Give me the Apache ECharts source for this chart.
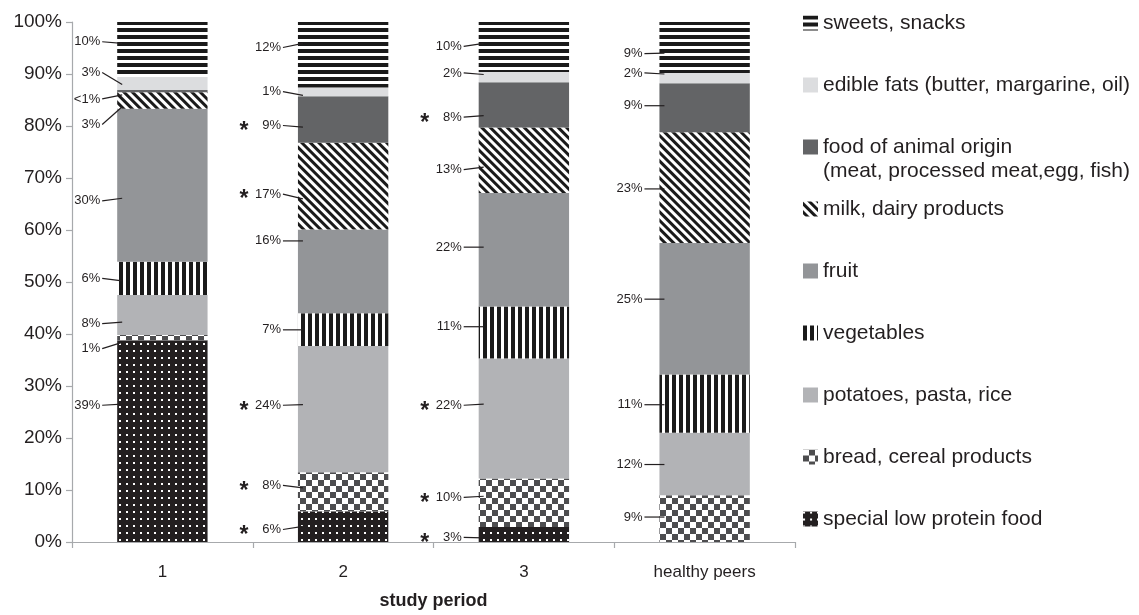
<!DOCTYPE html>
<html><head><meta charset="utf-8">
<script src="https://cdn.jsdelivr.net/npm/echarts@6/dist/echarts.min.js"></script>
<style>html,body{margin:0;padding:0;background:#fff}#c{width:1139px;height:615px}</style>
</head><body><div id="c"></div>
<script>
// ---------- data ----------
const categories = ['1', '2', '3', 'healthy peers'];
const seriesNames = ['special low protein food', 'bread, cereal products', 'potatoes, pasta, rice',
  'vegetables', 'fruit', 'milk, dairy products', 'food of animal origin',
  'edible fats (butter, margarine, oil)', 'sweets, snacks'];
const special    = [38.8, 5.9, 2.9, 0];
const bread      = [1.0, 7.5, 9.3, 9.0];
const potatoes   = [7.7, 24.3, 23.1, 12.0];
const vegetables = [6.4, 6.3, 10.0, 11.2];
const fruit      = [29.4, 16.1, 21.8, 25.3];
const milk       = [3.2, 16.7, 12.6, 21.3];
const animal     = [0.4, 8.9, 8.7, 9.4];
const fats       = [2.5, 1.7, 2.0, 2.0];
const sweets     = [10.6, 12.6, 9.6, 9.8];
const yTicks = [0, 10, 20, 30, 40, 50, 60, 70, 80, 90, 100];

// value labels (bottom -> top) and significance stars
const labels1 = ['39%', '1%', '8%', '6%', '30%', '3%', '<1%', '3%', '10%'];
const labels2 = ['6%', '8%', '24%', '7%', '16%', '17%', '9%', '1%', '12%'];
const labels3 = ['3%', '10%', '22%', '11%', '22%', '13%', '8%', '2%', '10%'];
const labels4 = ['', '9%', '12%', '11%', '25%', '23%', '9%', '2%', '9%'];
const stars1 = [0, 0, 0, 0, 0, 0, 0, 0, 0];
const stars2 = [1, 1, 1, 0, 0, 1, 1, 0, 0];
const stars3 = [1, 1, 1, 0, 0, 0, 1, 0, 0];
const stars4 = [0, 0, 0, 0, 0, 0, 0, 0, 0];

// ---------- label placement (layout, in axis units) ----------
const labelAt = [
  [26.3, 37.2, 42.0, 50.7, 65.6, 80.3, 85.2, 90.3, 96.2],
  [2.4, 10.9, 26.3, 40.8, 57.9, 66.9, 80.1, 86.6, 95.1],
  [0.9, 8.6, 26.3, 41.4, 56.7, 71.6, 81.7, 90.2, 95.3],
  [0, 4.8, 14.9, 26.4, 46.7, 67.9, 83.9, 90.2, 93.9]
];
const labelTo = [
  [26.5, 38.4, 42.3, 50.2, 66.1, 83.7, 86.0, 88.0, 95.9],
  [3.0, 10.4, 26.4, 40.8, 57.9, 66.0, 79.8, 85.9, 95.9],
  [0.8, 8.8, 26.5, 41.4, 56.7, 72.1, 82.0, 89.9, 95.9],
  [0, 4.8, 14.9, 26.4, 46.7, 67.9, 83.9, 90.0, 94.0]
];

const FONT = "'Liberation Sans', Arial, Helvetica, sans-serif";
const TXT = '#231f20';
const AX = '#a7a9ac';

const allLabels = [labels1, labels2, labels3, labels4];
const allStars = [stars1, stars2, stars3, stars4];
const annots = [];
allLabels.forEach((labs, c) => {
  labs.forEach((t, i) => {
    if (!t) return;
    annots.push({ value: [c, labelAt[c][i], labelTo[c][i]], text: t, star: allStars[c][i] });
  });
});

const seriesValues = [special, bread, potatoes, vegetables, fruit, milk, animal, fats, sweets];
const styles = [
  { color: '#231f20', decal: { symbol: 'rect', symbolSize: 1, color: '#ffffff', dashArrayX: [2, 5], dashArrayY: [2, 5] } },
  { color: '#ffffff', decal: { symbol: 'rect', symbolSize: 1, color: '#4d4d4f', dashArrayX: [[6, 6], [0, 6, 6, 0]], dashArrayY: [6, 0] } },
  { color: '#b2b3b6' },
  { color: '#ffffff', decal: { symbol: 'rect', symbolSize: 1, color: '#1a1a1a', dashArrayX: [4, 3], dashArrayY: [1, 0] } },
  { color: '#939598' },
  { color: '#ffffff', decal: { symbol: 'rect', symbolSize: 1, color: '#1a1a1a', dashArrayX: [1, 0], dashArrayY: [3, 3], rotation: Math.PI / 4 } },
  { color: '#636466' },
  { color: '#dcdddf' },
  { color: '#ffffff', decal: { symbol: 'rect', symbolSize: 1, color: '#1a1a1a', dashArrayX: [1, 0], dashArrayY: [4, 3] } }
];

const barSeries = seriesNames.map((n, i) => ({
  name: n, type: 'bar', stack: 'total', barWidth: '50%',
  data: seriesValues[i], itemStyle: styles[i], silent: true,
  emphasis: { disabled: true }
}));

const annotSeries = {
  type: 'custom', name: 'labels', silent: true, z: 10,
  data: annots.map(a => a.value),
  renderItem: function (params, api) {
    const a = annots[params.dataIndex];
    const p = api.coord([api.value(0), api.value(1)]);
    const q = api.coord([api.value(0), api.value(2)]);
    const band = api.size([1, 0])[0];
    const barLeft = p[0] - band * 0.25;
    const ch = [
      { type: 'text', style: { text: a.text, x: barLeft - 17, y: p[1], align: 'right', verticalAlign: 'middle', fontSize: 13, fontFamily: FONT, fill: TXT } },
      { type: 'line', shape: { x1: barLeft - 15, y1: p[1], x2: barLeft + 5, y2: q[1] }, style: { stroke: TXT, lineWidth: 1.2 } }
    ];
    if (a.star) {
      ch.push({ type: 'text', style: { text: '*', x: barLeft - 54, y: p[1] + 6, align: 'center', verticalAlign: 'middle', fontSize: 23, fontWeight: 'bold', fontFamily: FONT, fill: TXT } });
    }
    return { type: 'group', children: ch };
  }
};

const chart = echarts.init(document.getElementById('c'), null, { renderer: 'canvas' });
chart.setOption({
  animation: false,
  backgroundColor: '#ffffff',
  textStyle: { fontFamily: FONT },
  grid: { left: 72, right: 344, top: 22, bottom: 71, containLabel: false },
  legend: {
    orient: 'vertical', left: 798, top: 6, itemWidth: 15, itemHeight: 15, itemGap: 38,
    icon: 'rect', selectedMode: false,
    data: seriesNames.slice().reverse(),
    textStyle: { fontSize: 21, color: TXT, fontFamily: FONT, lineHeight: 24 }
  },
  graphic: [
    { type: 'text', left: 823, top: 161, style: { text: '(meat, processed meat,egg, fish)', fontSize: 21, fill: TXT, fontFamily: FONT } }
  ],
  xAxis: {
    type: 'category', data: categories,
    axisLine: { lineStyle: { color: AX, width: 1.2 } },
    axisTick: { show: true, length: 6, lineStyle: { color: AX, width: 1.2 } },
    axisLabel: { fontSize: 17, color: TXT, margin: 22, fontFamily: FONT },
    name: 'study period', nameLocation: 'middle', nameGap: 50,
    nameTextStyle: { fontSize: 18, fontWeight: 'bold', color: TXT, fontFamily: FONT }
  },
  yAxis: {
    type: 'value', min: yTicks[0], max: yTicks[yTicks.length - 1], interval: 10,
    axisLine: { show: true, lineStyle: { color: AX, width: 1.2 } },
    axisTick: { show: true, length: 6, lineStyle: { color: AX, width: 1.2 } },
    splitLine: { show: false },
    axisLabel: { formatter: '{value}%', fontSize: 19, color: TXT, margin: 10, fontFamily: FONT }
  },
  series: barSeries.concat([annotSeries])
});
</script>
</body></html>
